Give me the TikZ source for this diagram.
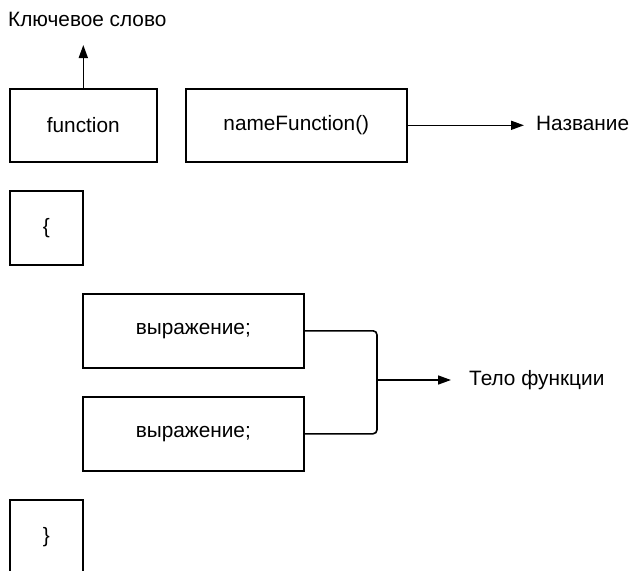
\documentclass[tikz,border=0pt]{standalone}
\usepackage{fontspec}
\setmainfont{Liberation Sans}
\usetikzlibrary{arrows.meta}
\begin{document}
\begin{tikzpicture}[x=1pt,y=-1pt,
  every node/.style={font=\fontsize{20.8}{25}\selectfont},
  box/.style={draw, line width=1.6pt, inner sep=0pt, anchor=north west},
  lbl/.style={inner sep=2pt},
  conn/.style={line width=1.6pt},
  arr/.style={conn, -{Triangle[length=13pt,width=9pt]}}]
\useasboundingbox (0,0) rectangle (631,570);
\clip (0,0) rectangle (631,570);
\fill[white] (0,0) rectangle (631,570);
% boxes
\node[box, minimum width=147pt, minimum height=73pt] (fn) at (9,88) {function};
\node[box, minimum width=221pt, minimum height=73pt] (nf) at (185,88) {nameFunction()};
\node[box, minimum width=73pt, minimum height=74pt] (ob) at (9,190) {\{};
\node[box, minimum width=221pt, minimum height=74pt] (e1) at (82,293) {выражение;};
\node[box, minimum width=221pt, minimum height=74pt] (e2) at (82,396) {выражение;};
\node[box, minimum width=73pt, minimum height=74pt] (cb) at (9,499) {\}};
% labels
\node[lbl, anchor=west] (kw) at (6,19) {Ключевое слово};
\node[lbl, anchor=west] (nm) at (534,123) {Название};
\node[lbl, anchor=west] (tf) at (467,380) {Тело функции};
% connectors
\coordinate (kwend) at (fn.north |- 0,45);
\draw[arr] (fn.north) -- (kwend);
\draw[arr, shorten >=10pt] (nf.east) -- (nf.east -| nm.west);
\coordinate (j) at (377,380);
\draw[conn, rounded corners=4pt] (e1.east) -| (j);
\draw[conn, rounded corners=4pt] (e2.east) -| (j);
\draw[arr, shorten >=16pt] (j) -- (j -| tf.west);
\end{tikzpicture}
\end{document}
